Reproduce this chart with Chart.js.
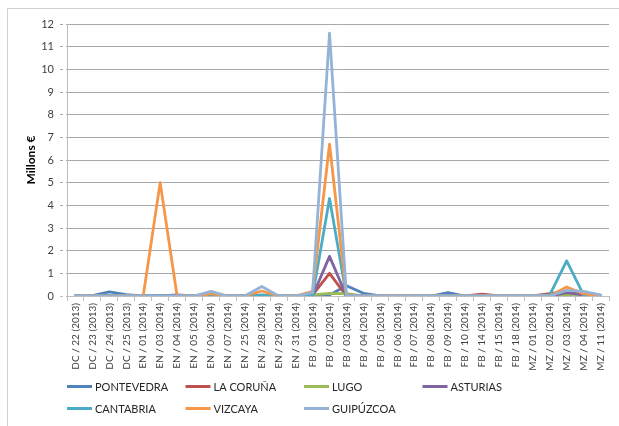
<!DOCTYPE html>
<html><head><meta charset="utf-8">
<script src="https://cdn.jsdelivr.net/npm/chart.js@4/dist/chart.umd.min.js"></script>
<style>html,body{margin:0;padding:0;background:#fff}#wrap{position:relative;width:619px;height:426px}</style>
</head><body><div id="wrap"><canvas id="c" width="619" height="426"></canvas></div>
<script>
const categories = ['DC / 22 (2013)','DC / 23 (2013)','DC / 24 (2013)','DC / 25 (2013)','EN / 01 (2014)','EN / 03 (2014)','EN / 04 (2014)','EN / 05 (2014)','EN / 06 (2014)','EN / 07 (2014)','EN / 25 (2014)','EN / 28 (2014)','EN / 29 (2014)','EN / 31 (2014)','FB / 01 (2014)','FB / 02 (2014)','FB / 03 (2014)','FB / 04 (2014)','FB / 05 (2014)','FB / 06 (2014)','FB / 07 (2014)','FB / 08 (2014)','FB / 09 (2014)','FB / 10 (2014)','FB / 14 (2014)','FB / 15 (2014)','FB / 18 (2014)','MZ / 01 (2014)','MZ / 02 (2014)','MZ / 03 (2014)','MZ / 04 (2014)','MZ / 11 (2014)'];
const seriesNames = ['PONTEVEDRA','LA CORUÑA','LUGO','ASTURIAS','CANTABRIA','VIZCAYA','GUIPÚZCOA'];
const pontevedra = [0,0.02,0.18,0.06,0,0,0,0,0.05,0,0,0,0,0,0,0.05,0.45,0.12,0,0,0,0,0.15,0,0,0,0,0,0,0.1,0.15,0];
const laCoruna   = [0,0,0,0,0,0,0,0,0,0,0,0,0,0,0.05,1.0,0,0,0,0,0,0,0,0,0.08,0,0,0,0.1,0.2,0.05,0];
const lugo       = [0,0,0,0,0,0,0,0,0,0,0,0,0,0,0.05,0.12,0.1,0,0,0,0,0,0,0,0,0,0,0,0,0.05,0,0];
const asturias   = [0,0,0,0,0,0,0.05,0,0,0,0,0,0,0,0,1.75,0,0,0,0,0,0,0,0,0,0,0,0,0,0.15,0.05,0];
const cantabria  = [0,0,0,0,0,0,0,0,0,0,0,0.05,0,0,0,4.3,0,0,0,0,0,0,0,0,0,0,0,0,0.05,1.55,0.05,0];
const vizcaya    = [0,0,0,0,0,5.0,0,0,0.1,0,0,0.22,0,0,0.2,6.7,0,0,0,0.02,0,0,0,0,0,0,0,0,0,0.4,0.1,0];
const guipuzcoa  = [0,0,0,0,0,0,0,0,0.2,0,0,0.42,0,0,0.15,11.6,0,0,0,0,0,0,0,0,0,0,0,0,0,0.25,0.2,0.05];
const yTicks = [0,1,2,3,4,5,6,7,8,9,10,11,12];

const colors = ['#4F81BD','#C0504D','#9BBB59','#8064A2','#4BACC6','#F79646','#95B3D7'];
const allData = [pontevedra,laCoruna,lugo,asturias,cantabria,vizcaya,guipuzcoa];
const FONT = 'Lato, "Open Sans", sans-serif';

const datasets = allData.map((d,i)=>({
  label: seriesNames[i], data: d, borderColor: colors[i], backgroundColor: colors[i],
  borderWidth: 2.8, pointRadius: 0, tension: 0, fill: false, order: 6 - i,
  borderJoinStyle: 'round', borderCapStyle: 'round'
}));

const extras = {
  id: 'extras',
  afterDraw(chart){
    const ctx = chart.ctx;
    ctx.save();
    ctx.strokeStyle = '#d0d0d0'; ctx.lineWidth = 1;
    ctx.beginPath(); ctx.moveTo(7.5, 426); ctx.lineTo(7.5, 8.5); ctx.lineTo(619, 8.5); ctx.stroke();
    ctx.font = '11px ' + FONT; ctx.textBaseline = 'middle'; ctx.fillStyle = '#262626';
    chart.data.datasets.forEach((ds,i)=>{
      const col = i % 4, row = Math.floor(i/4);
      const x = 67 + col*118.5, y = 386.5 + row*22;
      ctx.strokeStyle = ds.borderColor; ctx.lineWidth = 3;
      ctx.beginPath(); ctx.moveTo(x, y); ctx.lineTo(x+25, y); ctx.stroke();
      ctx.fillText(ds.label, x+28, y+0.5);
    });
    ctx.restore();
  }
};

new Chart(document.getElementById('c'), {
  type: 'line',
  data: { labels: categories, datasets },
  plugins: [extras],
  options: {
    responsive: false, animation: false,
    layout: { padding: { left: 24, right: 10, top: 24, bottom: 56 } },
    plugins: { legend: { display: false }, tooltip: { enabled: false } },
    scales: {
      x: {
        offset: true,
        afterFit(s){ s.height = 74; },
        grid: { display: true, offset: true, drawOnChartArea: false, drawTicks: true, tickLength: 5, color: '#bfbfbf' },
        border: { color: '#bfbfbf' },
        ticks: { autoSkip: false, maxRotation: 90, minRotation: 90, padding: 2, color: '#404040', font: { family: FONT, size: 10 } }
      },
      y: {
        min: 0, max: 12,
        afterFit(s){ s.width = 43; },
        afterBuildTicks(s){ s.ticks = yTicks.map(v=>({value:v})); },
        title: { display: true, text: 'Millons €', color: '#000', font: { family: FONT, size: 12, weight: 'bold' }, padding: { top: 0, bottom: 0 } },
        grid: { color: (c)=> c.tick && c.tick.value === 0 ? '#bfbfbf' : '#a8a8a8', tickLength: 7, lineWidth: 1, borderDash: [3,3], tickBorderDash: [3,3] },
        border: { color: '#bfbfbf' },
        ticks: { padding: 6, color: '#404040', font: { family: FONT, size: 11 } }
      }
    }
  }
});
</script></body></html>
